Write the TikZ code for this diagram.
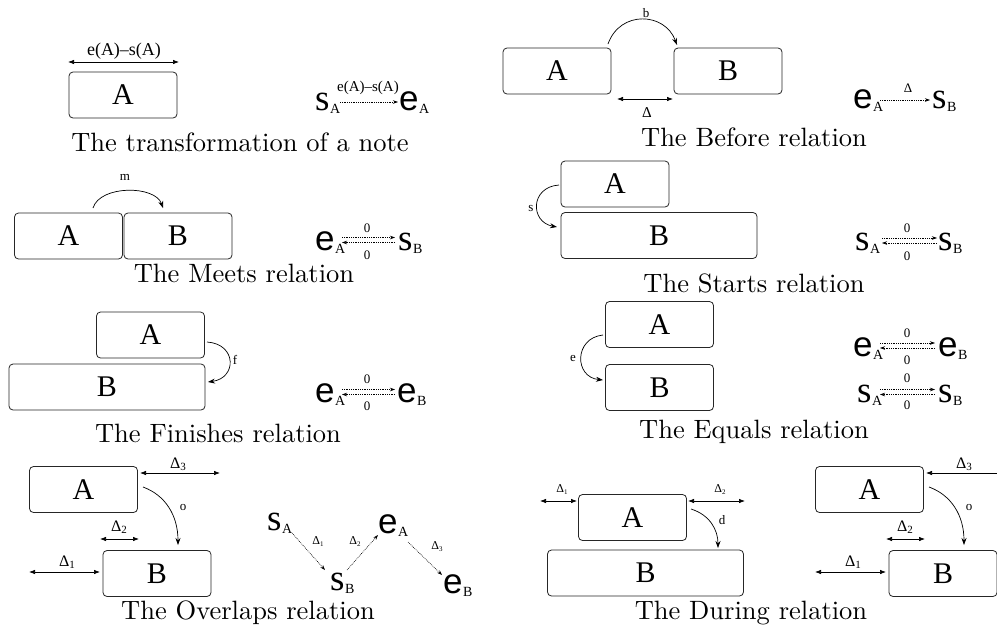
\documentclass[tikz,border=0pt]{standalone}
\usepackage{fontspec}
\usetikzlibrary{arrows.meta}
\newfontfamily\tms{Liberation Serif}
\newfontfamily\hlv{Liberation Sans}
\newfontfamily\capfont{lmroman10-regular}[Extension=.otf]
\newcommand\boxfont{\tms\fontsize{30}{30}\selectfont}
\newcommand\lblfont{\tms\fontsize{13}{13}\selectfont}
\newcommand\midfont{\tms\fontsize{18}{18}\selectfont}
\newcommand\smfont{\tms\fontsize{15}{15}\selectfont}
\newcommand\capsize{\capfont\fontsize{26.5}{26.5}\selectfont}
\newcommand\subtx[1]{\raisebox{-3pt}{\tms\fontsize{14}{14}\selectfont #1}}
\newcommand\symE[1]{{\hlv\fontsize{35}{35}\selectfont e}\kern0.5pt\subtx{#1}}
\newcommand\symS[1]{{\tms\fontsize{37}{37}\selectfont s}\kern0.5pt\subtx{#1}}
\newcommand\dlt[1]{{\tms\fontsize{16}{16}\selectfont Δ\raisebox{-2pt}{\fontsize{11}{11}\selectfont #1}}}
\newcommand\sdlt[1]{{\tms\fontsize{12}{12}\selectfont Δ\raisebox{-2pt}{\fontsize{7}{7}\selectfont #1}}}
\begin{document}
\begin{tikzpicture}[x=1pt,y=1pt,
  box/.style={draw=black!85, line width=0.8pt, rounded corners=4pt, minimum width=108pt, minimum height=46pt, inner sep=0pt, font=\boxfont},
  longbox/.style={box, minimum width=196pt},
  dbl/.style={{Latex[length=6pt,width=4.5pt]}-{Latex[length=6pt,width=4.5pt]}, line width=0.7pt},
  arcarrow/.style={-{Stealth[length=7pt,width=5pt]}, line width=0.7pt},
  dotarrow/.style={-{Stealth[length=5pt,width=3.5pt]}, line width=0.6pt, dash pattern=on 0.8pt off 1pt},
  lbl/.style={font=\lblfont, inner sep=0pt},
  sym/.style={anchor=base west, inner sep=0pt},
  captxt/.style={font=\capsize, inner sep=0pt}]
\useasboundingbox (0,0) rectangle (997,-638);
\clip (0,0) rectangle (997,-638);
\fill[white] (0,0) rectangle (997,-638);

% ---------- 1: transformation of a note
\node[box] (A1) at (123,-95) {A};
\coordinate (w1l) at (68,-62); \coordinate (w1r) at (179,-62);
\draw[dbl] (w1l) -- (w1r);
\node[font=\midfont, inner sep=0pt] (w1lab) at (124,-51) {e(A)–s(A)};
\node[sym] (sA1) at (315,-110) {\symS{A}};
\node[sym] (eA1) at (399,-110) {\symE{A}};
\coordinate (d1a) at (340,-102); \coordinate (d1b) at (398,-102);
\draw[dotarrow] (d1a) -- (d1b);
\node[font=\smfont, inner sep=0pt] (d1lab) at (368,-88) {e(A)–s(A)};
\node[captxt] (c1) at (240,-142) {The transformation of a note};

% ---------- 2: Before
\node[box] (A2) at (557,-71) {A};
\node[box] (B2) at (728,-71) {B};
\coordinate (b2s) at (608,-44); \coordinate (b2e) at (677,-45);
\draw[arcarrow] (b2s) .. controls (620,-10) and (665,-12) .. (b2e);
\node[lbl] (b2lab) at (646,-13) {b};
\coordinate (g2l) at (617,-99); \coordinate (g2r) at (673,-99);
\draw[dbl] (g2l) -- (g2r);
\node[font=\smfont, inner sep=0pt] (g2lab) at (647,-113) {Δ};
\node[sym] (eA2) at (853,-108) {\symE{A}};
\node[sym] (sB2) at (932,-108) {\symS{B}};
\coordinate (d2a) at (880,-100); \coordinate (d2b) at (930,-100);
\draw[dotarrow] (d2a) -- (d2b);
\node[lbl] (d2lab) at (908,-88) {Δ};
\node[captxt] (c2) at (754,-137) {The Before relation};

% ---------- 3: Meets
\node[box] (A3) at (68.5,-236) {A};
\node[box] (B3) at (178,-236) {B};
\coordinate (m3s) at (93,-208); \coordinate (m3e) at (163,-208);
\draw[arcarrow] (m3s) .. controls (100,-185) and (155,-185) .. (m3e);
\node[lbl] (m3lab) at (125,-177) {m};
\node[sym] (eA3) at (315,-250) {\symE{A}};
\node[sym] (sB3) at (398,-250) {\symS{B}};
\coordinate (d3a) at (342,-237.5); \coordinate (d3b) at (395,-237.5);
\coordinate (d3c) at (395,-242.5); \coordinate (d3d) at (342,-242.5);
\draw[dotarrow] (d3a) -- (d3b);
\draw[dotarrow] (d3c) -- (d3d);
\node[lbl] (z3a) at (367,-228) {0};
\node[lbl] (z3b) at (367,-255) {0};
\node[captxt] (c3) at (244,-273) {The Meets relation};

% ---------- 4: Starts
\node[box] (A4) at (615,-184) {A};
\node[longbox] (B4) at (659,-235.5) {B};
\coordinate (s4s) at (559,-185); \coordinate (s4e) at (557,-227);
\draw[arcarrow] (s4s) .. controls (530,-187) and (530,-222) .. (s4e);
\node[lbl] (s4lab) at (531,-208) {s};
\node[sym] (sA4) at (855,-250) {\symS{A}};
\node[sym] (sB4) at (938,-250) {\symS{B}};
\coordinate (d4a) at (882,-238); \coordinate (d4b) at (937,-238);
\coordinate (d4c) at (937,-243); \coordinate (d4d) at (882,-243);
\draw[dotarrow] (d4a) -- (d4b);
\draw[dotarrow] (d4c) -- (d4d);
\node[lbl] (z4a) at (907,-228) {0};
\node[lbl] (z4b) at (907,-256) {0};
\node[captxt] (c4) at (754,-283) {The Starts relation};

% ---------- 5: Finishes
\node[box] (A5) at (150.5,-335) {A};
\node[longbox] (B5) at (107,-387) {B};
\coordinate (f5s) at (207,-342); \coordinate (f5e) at (208,-382);
\draw[arcarrow] (f5s) .. controls (237,-344) and (237,-378) .. (f5e);
\node[lbl] (f5lab) at (235,-360) {f};
\node[sym] (eA5) at (315,-402) {\symE{A}};
\node[sym] (eB5) at (397,-402) {\symE{B}};
\coordinate (d5a) at (342,-389.5); \coordinate (d5b) at (395,-389.5);
\coordinate (d5c) at (395,-394.5); \coordinate (d5d) at (342,-394.5);
\draw[dotarrow] (d5a) -- (d5b);
\draw[dotarrow] (d5c) -- (d5d);
\node[lbl] (z5a) at (367,-379) {0};
\node[lbl] (z5b) at (367,-406) {0};
\node[captxt] (c5) at (218,-433) {The Finishes relation};

% ---------- 6: Equals
\node[box] (A6) at (659.5,-324.5) {A};
\node[box] (B6) at (659.5,-387.5) {B};
\coordinate (e6s) at (603,-335); \coordinate (e6e) at (603,-380);
\draw[arcarrow] (e6s) .. controls (574,-338) and (574,-377) .. (e6e);
\node[lbl] (e6lab) at (573,-358) {e};
\node[sym] (eA6) at (853,-356) {\symE{A}};
\node[sym] (eB6) at (938,-356) {\symE{B}};
\coordinate (d6a) at (880,-343); \coordinate (d6b) at (935,-343);
\coordinate (d6c) at (935,-348); \coordinate (d6d) at (880,-348);
\draw[dotarrow] (d6a) -- (d6b);
\draw[dotarrow] (d6c) -- (d6d);
\node[lbl] (z6a) at (907,-333) {0};
\node[lbl] (z6b) at (907,-360) {0};
\node[sym] (sA6) at (857,-402) {\symS{A}};
\node[sym] (sB6) at (938,-402) {\symS{B}};
\coordinate (d6e) at (880,-389.5); \coordinate (d6f) at (935,-389.5);
\coordinate (d6g) at (935,-394.5); \coordinate (d6h) at (880,-394.5);
\draw[dotarrow] (d6e) -- (d6f);
\draw[dotarrow] (d6g) -- (d6h);
\node[lbl] (z6c) at (907,-378) {0};
\node[lbl] (z6d) at (907,-405) {0};
\node[captxt] (c6) at (754,-432) {The Equals relation};

% ---------- 7: Overlaps (left) and its copy (right)
\foreach \sh/\pre in {0/L-, 786/R-} {
\begin{scope}[xshift=\sh pt, name prefix=\pre]
\node[box] (A) at (83.5,-489.5) {A};
\node[box] (B) at (157,-573.5) {B};
\coordinate (d3l) at (140,-473); \coordinate (d3r) at (220,-473);
\draw[dbl] (d3l) -- (d3r);
\node[inner sep=0pt] (d3lab) at (178,-464) {\dlt{3}};
\coordinate (os) at (143,-487); \coordinate (oe) at (178,-545);
\draw[arcarrow] (os) .. controls (165,-495) and (178,-515) .. (oe);
\node[lbl] (olab) at (183,-507) {o};
\coordinate (d2l) at (100,-539); \coordinate (d2r) at (139,-539);
\draw[dbl] (d2l) -- (d2r);
\node[inner sep=0pt] (d2lab) at (119,-527) {\dlt{2}};
\coordinate (d1l) at (29,-572); \coordinate (d1r) at (100,-572);
\draw[dbl] (d1l) -- (d1r);
\node[inner sep=0pt] (d1lab) at (67,-562) {\dlt{1}};
\end{scope}
}
\node[sym] (sA7) at (267,-530) {\symS{A}};
\node[sym] (sB7) at (330,-590) {\symS{B}};
\node[sym] (eA7) at (378,-533) {\symE{A}};
\node[sym] (eB7) at (443,-593) {\symE{B}};
\coordinate (o7a) at (292,-533); \coordinate (o7b) at (325,-570);
\coordinate (o7c) at (347,-570); \coordinate (o7d) at (378,-535);
\coordinate (o7e) at (408,-542); \coordinate (o7f) at (442,-575);
\draw[dotarrow] (o7a) -- (o7b);
\draw[dotarrow] (o7c) -- (o7d);
\draw[dotarrow] (o7e) -- (o7f);
\node[inner sep=0pt] (o7l1) at (318,-542) {\sdlt{1}};
\node[inner sep=0pt] (o7l2) at (355,-542) {\sdlt{2}};
\node[inner sep=0pt] (o7l3) at (437,-547) {\sdlt{3}};
\node[captxt] (c7) at (248,-613) {The Overlaps relation};

% ---------- 8: During
\node[box] (A8) at (632.5,-517.5) {A};
\node[longbox] (B8) at (645.5,-573) {B};
\coordinate (u1l) at (540,-501); \coordinate (u1r) at (577,-501);
\draw[dbl] (u1l) -- (u1r);
\node[inner sep=0pt] (u1lab) at (562,-490) {\sdlt{1}};
\coordinate (u2l) at (688,-501); \coordinate (u2r) at (745,-501);
\draw[dbl] (u2l) -- (u2r);
\node[inner sep=0pt] (u2lab) at (720,-490) {\sdlt{2}};
\coordinate (ds) at (691,-509); \coordinate (de) at (718,-548);
\draw[arcarrow] (ds) .. controls (710,-515) and (718,-530) .. (de);
\node[lbl] (dlab) at (722,-520) {d};
\node[captxt] (c8) at (751,-613) {The During relation};
\end{tikzpicture}
\end{document}
